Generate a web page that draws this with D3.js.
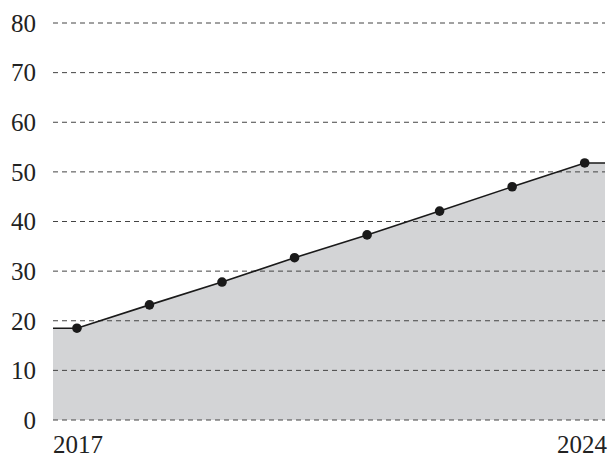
<!DOCTYPE html>
<html>
<head>
<meta charset="utf-8">
<script src="https://cdn.jsdelivr.net/npm/d3@7"></script>
<style>
  body { margin: 0; background: #fff; }
  text { font-family: "Liberation Serif", "DejaVu Serif", serif; fill: #222; }
</style>
</head>
<body>
<script>
const width = 608;
const height = 458;

// data
const years = [2017, 2018, 2019, 2020, 2021, 2022, 2023, 2024];
const values = [18.5, 23.2, 27.8, 32.7, 37.3, 42.1, 47.0, 51.8];
const yTicks = [0, 10, 20, 30, 40, 50, 60, 70, 80];
const xLabels = [2017, 2024];

const margin = { left: 53, right: 3, top: 23, bottom: 38 };

const x = d3.scaleLinear()
  .domain([2016.67, 2024.28])
  .range([margin.left, width - margin.right]);

const y = d3.scaleLinear()
  .domain([0, 80])
  .range([height - margin.bottom, margin.top]);

const svg = d3.select('body')
  .append('svg')
  .attr('width', width)
  .attr('height', height);

// points plus flat run-out to the plot edges
const pts = years.map((yr, i) => [yr, values[i]]);
const ext = [[x.domain()[0], values[0]], ...pts, [x.domain()[1], values[values.length - 1]]];

const area = d3.area()
  .x(d => x(d[0]))
  .y0(y(0))
  .y1(d => y(d[1]));

svg.append('path')
  .datum(ext)
  .attr('d', area)
  .attr('fill', '#d3d4d6');

// dashed grid lines
svg.append('g')
  .selectAll('line')
  .data(yTicks)
  .enter()
  .append('line')
  .attr('x1', x.range()[0])
  .attr('x2', x.range()[1])
  .attr('y1', d => y(d))
  .attr('y2', d => y(d))
  .attr('stroke', '#444')
  .attr('stroke-width', 1)
  .attr('stroke-dasharray', '5,4');

// y tick labels
svg.append('g')
  .selectAll('text')
  .data(yTicks)
  .enter()
  .append('text')
  .attr('x', 36)
  .attr('y', d => y(d))
  .attr('dy', '0.35em')
  .attr('text-anchor', 'end')
  .attr('font-size', 25)
  .text(d => d);

// x labels at the ends of the axis
svg.append('g')
  .selectAll('text')
  .data(xLabels)
  .enter()
  .append('text')
  .attr('x', (d, i) => i === 0 ? x.range()[0] : x.range()[1] + 2)
  .attr('y', 453)
  .attr('text-anchor', (d, i) => i === 0 ? 'start' : 'end')
  .attr('font-size', 25)
  .text(d => d);

const line = d3.line()
  .x(d => x(d[0]))
  .y(d => y(d[1]));

svg.append('path')
  .datum(ext)
  .attr('d', line)
  .attr('fill', 'none')
  .attr('stroke', '#1a1a1a')
  .attr('stroke-width', 1.6);

svg.append('g')
  .selectAll('circle')
  .data(pts)
  .enter()
  .append('circle')
  .attr('cx', d => x(d[0]))
  .attr('cy', d => y(d[1]))
  .attr('r', 4.8)
  .attr('fill', '#1a1a1a');
</script>
</body>
</html>
